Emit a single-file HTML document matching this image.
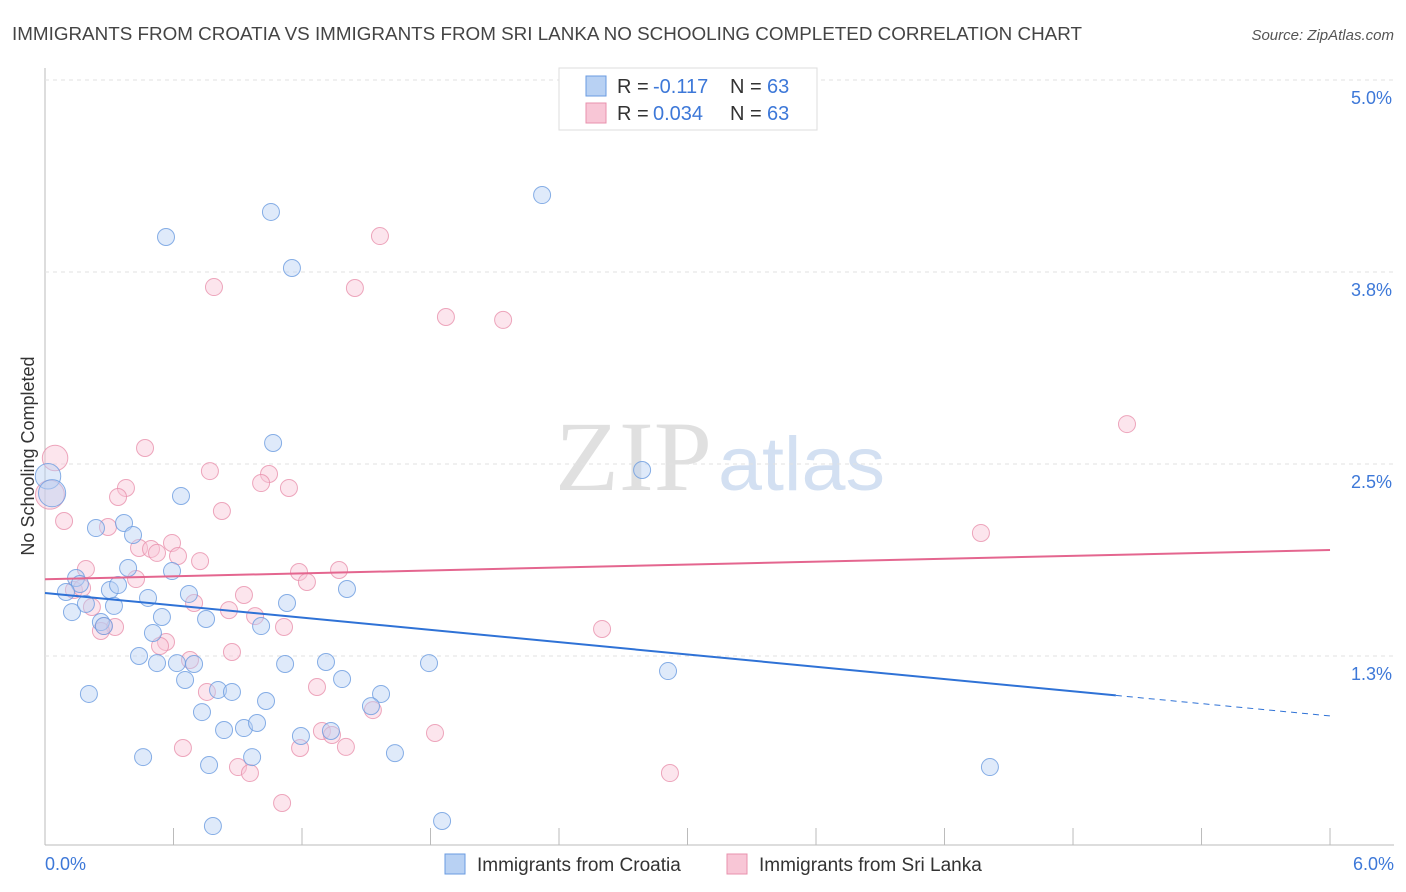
<!DOCTYPE html>
<html><head><meta charset="utf-8"><style>
body{margin:0;background:#fff;font-family:"Liberation Sans",sans-serif;}
svg{display:block}
</style></head><body>
<svg width="1406" height="892" id="c">
<text x="12" y="40" font-size="18" fill="#444" textLength="1070" lengthAdjust="spacingAndGlyphs">IMMIGRANTS FROM CROATIA VS IMMIGRANTS FROM SRI LANKA NO SCHOOLING COMPLETED CORRELATION CHART</text>
<text x="1394" y="40" font-size="15" fill="#555" text-anchor="end" font-style="italic">Source: ZipAtlas.com</text>
<text x="712" y="490" font-size="100" fill="#e0e0e0" text-anchor="end" font-family="Liberation Serif" textLength="157" lengthAdjust="spacingAndGlyphs">ZIP</text>
<text x="718" y="490" font-size="76" fill="#d3e0f2" textLength="167" lengthAdjust="spacingAndGlyphs">atlas</text>
<text x="34" y="456" font-size="18" fill="#333" text-anchor="middle" transform="rotate(-90 34 456)">No Schooling Completed</text>
<g id="grid"></g><g id="pts"></g><g id="lines"></g>
<g>
<rect x="559" y="68" width="258" height="62" fill="#fff" stroke="#ddd"/>
<rect x="586" y="76" width="20" height="20" fill="#b8d1f3" stroke="#6a9be0"/>
<rect x="586" y="103" width="20" height="20" fill="#f8c6d6" stroke="#e891ad"/>
<text x="617" y="93" font-size="20" fill="#333">R =</text><text x="653" y="93" font-size="20" fill="#3d78d8">-0.117</text>
<text x="730" y="93" font-size="20" fill="#333">N =</text><text x="767" y="93" font-size="20" fill="#3d78d8">63</text>
<text x="617" y="120" font-size="20" fill="#333">R =</text><text x="653" y="120" font-size="20" fill="#3d78d8">0.034</text>
<text x="730" y="120" font-size="20" fill="#333">N =</text><text x="767" y="120" font-size="20" fill="#3d78d8">63</text>
</g>
<g>
<rect x="445" y="854" width="20" height="20" fill="#b8d1f3" stroke="#6a9be0"/>
<text x="477" y="871" font-size="19" fill="#333">Immigrants from Croatia</text>
<rect x="727" y="854" width="20" height="20" fill="#f8c6d6" stroke="#e891ad"/>
<text x="759" y="871" font-size="19" fill="#333">Immigrants from Sri Lanka</text>
</g>
</svg>
<script>
const yTicks=[5.0,3.75,2.5,1.25];
const yTickLabels=["5.0%","3.8%","2.5%","1.3%"];
const xEndLabels=["0.0%","6.0%"];
const croatiaX=[0.014,0.033,0.565,1.055,1.153,2.321,1.065,2.788,0.635,0.238,0.369,0.411,0.593,0.388,0.145,0.163,0.098,0.303,0.341,0.481,0.672,1.130,1.410,0.126,0.191,0.322,0.546,0.752,0.261,0.275,0.504,1.009,0.439,0.523,0.616,0.696,1.121,1.312,1.793,2.909,0.654,0.808,0.873,0.205,1.032,1.569,1.387,0.733,1.522,0.836,0.929,0.990,1.195,1.335,0.458,0.967,0.766,1.634,4.412,0.784,1.854];
const croatiaY=[2.42,2.31,3.978,4.141,3.776,4.251,2.637,2.461,2.292,2.083,2.116,2.038,1.803,1.823,1.758,1.719,1.667,1.680,1.712,1.628,1.654,1.595,1.686,1.536,1.589,1.576,1.504,1.491,1.471,1.445,1.400,1.445,1.250,1.204,1.204,1.198,1.198,1.211,1.204,1.152,1.094,1.029,1.016,1.003,0.957,1.003,1.100,0.885,0.924,0.768,0.781,0.814,0.729,0.762,0.592,0.592,0.540,0.618,0.527,0.143,0.176];
const croatiaSize=[1.5,1.6,1,1,1,1,1,1,1,1,1,1,1,1,1,1,1,1,1,1,1,1,1,1,1,1,1,1,1,1,1,1,1,1,1,1,1,1,1,1,1,1,1,1,1,1,1,1,1,1,1,1,1,1,1,1,1,1,1,1,1];
const lankaX=[0.047,0.023,1.564,0.789,1.447,1.872,2.139,5.052,0.467,0.770,1.046,0.378,0.341,1.009,1.139,0.826,0.089,0.294,4.370,0.439,0.495,0.523,0.593,0.621,0.724,0.191,0.425,1.186,1.373,1.223,0.929,0.135,0.173,0.219,0.696,0.859,0.981,0.275,0.327,0.261,0.565,0.537,1.116,2.601,0.873,0.677,1.270,0.756,1.531,1.293,1.340,1.821,0.644,1.191,1.405,0.901,0.957,2.918,1.107];
const lankaY=[2.539,2.30,3.984,3.652,3.646,3.457,3.438,2.760,2.604,2.454,2.435,2.344,2.285,2.376,2.344,2.194,2.129,2.090,2.051,1.953,1.947,1.921,1.986,1.901,1.868,1.816,1.751,1.797,1.810,1.732,1.647,1.680,1.693,1.569,1.595,1.549,1.510,1.445,1.439,1.413,1.341,1.315,1.439,1.426,1.276,1.224,1.048,1.016,0.898,0.762,0.736,0.749,0.651,0.651,0.658,0.527,0.488,0.488,0.293];
const lankaSize=[1.5,1.7,1,1,1,1,1,1,1,1,1,1,1,1,1,1,1,1,1,1,1,1,1,1,1,1,1,1,1,1,1,1,1,1,1,1,1,1,1,1,1,1,1,1,1,1,1,1,1,1,1,1,1,1,1,1,1,1,1];
const croatiaTrend=[1.66,0.86];const croatiaSolidEnd=5.0;
const lankaTrend=[1.75,1.94];
const NS="http://www.w3.org/2000/svg";
const X=v=>45+v*214.17, Y=v=>80+(5-v)*153.6;
function mk(t,a,p){const e=document.createElementNS(NS,t);for(const k in a)e.setAttribute(k,a[k]);p.appendChild(e);return e;}
const g=document.getElementById('grid');
const ax=mk('line',{x1:45,y1:68,x2:45,y2:845,stroke:'#bbb'},g);

const bx=mk('line',{x1:45,y1:845,x2:1394,y2:845,stroke:'#bbb'},g);

yTicks.forEach((t,i)=>{const l=mk('line',{x1:45,y1:Y(t),x2:1394,y2:Y(t),stroke:'#e2e2e2','stroke-dasharray':'4,4'},g);

const tx=mk('text',{x:1392,y:Y(t)+24,'font-size':18,fill:'#3d78d8','text-anchor':'end'},g);tx.textContent=yTickLabels[i];
});
for(let i=1;i<=10;i++){const v=i*0.6;const l=mk('line',{x1:X(v),y1:828,x2:X(v),y2:845,stroke:'#bbb'},g);
}
[[0,'start',45],[6,'end',1394]].forEach((d,i)=>{const tx=mk('text',{x:d[2],y:870,'font-size':18,fill:'#3d78d8','text-anchor':d[1]},g);tx.textContent=xEndLabels[i];
});
const p=document.getElementById('pts');
function series(xs,ys,ss,fill,stroke,name){xs.forEach((x,i)=>{const c=mk('circle',{cx:X(x),cy:Y(ys[i]),r:8.5*ss[i],fill:fill,'fill-opacity':0.45,stroke:stroke,'stroke-opacity':0.8,'stroke-width':1},p);
});}
series(lankaX,lankaY,lankaSize,'#f8c6d6','#e891ad','sri-lanka-point');
series(croatiaX,croatiaY,croatiaSize,'#b8d1f3','#6a9be0','croatia-point');
const L=document.getElementById('lines');
const cy=x=>croatiaTrend[0]+(croatiaTrend[1]-croatiaTrend[0])*x/6;
const t1=mk('line',{x1:X(0),y1:Y(cy(0)),x2:X(croatiaSolidEnd),y2:Y(cy(croatiaSolidEnd)),stroke:'#2f72d6','stroke-width':2},L);

const t2=mk('line',{x1:X(croatiaSolidEnd),y1:Y(cy(croatiaSolidEnd)),x2:X(6),y2:Y(cy(6)),stroke:'#2f72d6','stroke-width':1,'stroke-dasharray':'6,5'},L);

const t3=mk('line',{x1:X(0),y1:Y(lankaTrend[0]),x2:X(6),y2:Y(lankaTrend[1]),stroke:'#e4668f','stroke-width':2},L);

</script>
</body></html>
